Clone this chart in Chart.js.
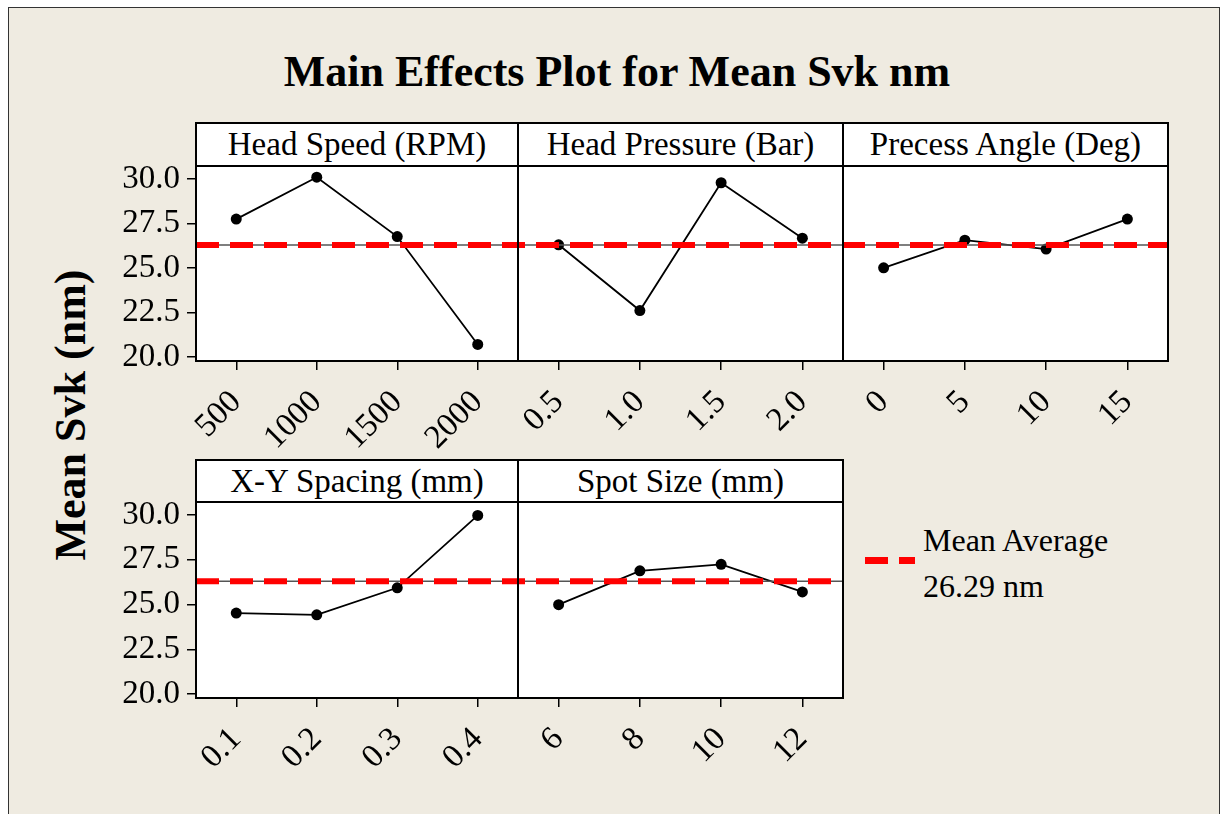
<!DOCTYPE html>
<html>
<head>
<meta charset="utf-8">
<title>Main Effects Plot for Mean Svk nm</title>
<script src="https://cdn.jsdelivr.net/npm/chart.js@4.4.1/dist/chart.umd.min.js"></script>
<style>
  body {
    margin: 0;
    width: 1224px;
    height: 814px;
    overflow: hidden;
    position: relative;
    background: #fff;
    font-family: 'Liberation Serif', 'Times New Roman', serif;
    color: #000;
  }
  #frame {
    position: absolute;
    left: 8px;
    top: 7px;
    width: 1210px;
    height: 830px;
    background: #efebe1;
    border: 1.5px solid #333;
  }
  .abs { position: absolute; }
  .header {
    position: absolute;
    box-sizing: border-box;
    background: #fff;
    border: 2px solid #000;
    text-align: center;
    font-size: 33px;
    line-height: 40px;
    white-space: nowrap;
  }
  #title {
    left: 0;
    width: 1234px;
    top: 47px;
    text-align: center;
    font-weight: bold;
    font-size: 44px;
    line-height: 50px;
  }
  #ytitle {
    left: -129px;
    top: 390px;
    width: 400px;
    height: 50px;
    text-align: center;
    font-weight: bold;
    font-size: 44px;
    line-height: 50px;
    transform: rotate(-90deg);
  }
  .legend-dash {
    position: absolute;
    height: 7px;
    background: #ff0000;
  }
  #legendText {
    left: 923px;
    top: 517px;
    font-size: 32px;
    line-height: 46px;
  }
</style>
</head>
<body>
<div id="frame"></div>
<div id="title" class="abs">Main Effects Plot for Mean Svk nm</div>
<div id="ytitle" class="abs">Mean Svk (nm)</div>

<script>
// overall mean of all runs, drawn as the dashed reference line
const meanValue = 26.29;

// shared y axis
const yTicks = [20.0, 22.5, 25.0, 27.5, 30.0];
const yMin = 19.78;
const yMax = 30.72;

// factor levels and mean Svk at each level
const headSpeedLevels = ['500', '1000', '1500', '2000'];
const headSpeedMeans = [27.74, 30.09, 26.76, 20.71];

const headPressureLevels = ['0.5', '1.0', '1.5', '2.0'];
const headPressureMeans = [26.30, 22.61, 29.78, 26.67];

const precessAngleLevels = ['0', '5', '10', '15'];
const precessAngleMeans = [25.01, 26.56, 26.06, 27.74];

const spacingLevels = ['0.1', '0.2', '0.3', '0.4'];
const spacingMeans = [24.52, 24.42, 25.93, 29.97];

const spotSizeLevels = ['6', '8', '10', '12'];
const spotSizeMeans = [24.99, 26.88, 27.24, 25.70];

const FONT = "'Liberation Serif', 'Times New Roman', serif";
const Y_AXIS_W = 110;
const X_AXIS_H = 100;
const PAD = 4;
const DASH_ORIGIN = 196; // keeps the dash pattern continuous across panels

// white plot area with a black frame
const panelFrame = {
    id: 'panelFrame',
    beforeDraw(chart) {
        const { ctx, chartArea: a } = chart;
        ctx.save();
        ctx.fillStyle = '#fff';
        ctx.fillRect(a.left, a.top, a.right - a.left, a.bottom - a.top);
        ctx.restore();
    },
    afterDraw(chart) {
        const { ctx, chartArea: a } = chart;
        ctx.save();
        ctx.strokeStyle = '#000';
        ctx.lineWidth = 2;
        ctx.strokeRect(a.left, a.top, a.right - a.left, a.bottom - a.top);
        ctx.restore();
    }
};

// horizontal reference line at the overall mean
const meanLine = {
    id: 'meanLine',
    afterDatasetsDraw(chart, args, opts) {
        const { ctx, chartArea: a, scales } = chart;
        const py = scales.y.getPixelForValue(opts.value);
        ctx.save();
        ctx.strokeStyle = '#555';
        ctx.lineWidth = 1.5;
        ctx.beginPath();
        ctx.moveTo(a.left, py);
        ctx.lineTo(a.right, py);
        ctx.stroke();

        ctx.strokeStyle = '#ff0000';
        ctx.lineWidth = 6;
        ctx.setLineDash([23, 11]);
        ctx.lineDashOffset = opts.offset;
        ctx.beginPath();
        ctx.moveTo(a.left, py);
        ctx.lineTo(a.right, py);
        ctx.stroke();
        ctx.restore();
    }
};

function addHeader(text, x, y, w, h) {
    const d = document.createElement('div');
    d.className = 'header';
    d.style.left = x + 'px';
    d.style.top = y + 'px';
    d.style.width = w + 'px';
    d.style.height = h + 'px';
    d.textContent = text;
    document.body.appendChild(d);
}

function makePanel(levels, means, box, showY) {
    const leftExtra = showY ? Y_AXIS_W : PAD;
    const canvas = document.createElement('canvas');
    canvas.width = box.w + leftExtra + PAD;
    canvas.height = box.h + PAD + X_AXIS_H;
    canvas.style.position = 'absolute';
    canvas.style.left = (box.x - leftExtra) + 'px';
    canvas.style.top = (box.y - PAD) + 'px';
    document.body.appendChild(canvas);

    return new Chart(canvas.getContext('2d'), {
        type: 'line',
        data: {
            labels: levels,
            datasets: [{
                data: means,
                borderColor: '#000',
                borderWidth: 1.8,
                pointRadius: 5.5,
                pointBackgroundColor: '#000',
                pointBorderWidth: 0,
                tension: 0
            }]
        },
        options: {
            responsive: false,
            animation: false,
            devicePixelRatio: 1,
            layout: {
                autoPadding: false, // plot areas must sit exactly on the panel grid
                padding: { left: showY ? 0 : PAD, top: PAD, right: PAD, bottom: 0 }
            },
            plugins: {
                legend: { display: false },
                tooltip: { enabled: false },
                meanLine: { value: meanValue, offset: box.x - DASH_ORIGIN }
            },
            scales: {
                x: {
                    type: 'category',
                    offset: true,
                    grid: {
                        display: true,
                        drawOnChartArea: false,
                        drawTicks: true,
                        tickLength: 9,
                        color: '#000',
                        lineWidth: 1.5
                    },
                    border: { display: false },
                    ticks: {
                        autoSkip: false,
                        minRotation: 45,
                        maxRotation: 45,
                        padding: 13,
                        color: '#000',
                        font: { family: FONT, size: 33 }
                    },
                    afterFit(scale) {
                        scale.height = X_AXIS_H;
                        scale.paddingLeft = 0;
                        scale.paddingRight = 0;
                    }
                },
                y: {
                    display: showY,
                    min: yMin,
                    max: yMax,
                    grid: {
                        display: true,
                        drawOnChartArea: false,
                        drawTicks: true,
                        tickLength: 9,
                        color: '#000',
                        lineWidth: 1.5
                    },
                    border: { display: false },
                    ticks: {
                        padding: 7,
                        color: '#000',
                        font: { family: FONT, size: 33 },
                        callback: v => Number(v).toFixed(1)
                    },
                    afterBuildTicks(scale) {
                        scale.ticks = yTicks.map(v => ({ value: v }));
                    },
                    afterFit(scale) {
                        if (showY) scale.width = Y_AXIS_W;
                        scale.paddingTop = 0;
                        scale.paddingBottom = 0;
                    }
                }
            }
        },
        plugins: [panelFrame, meanLine]
    });
}

// top row
addHeader('Head Speed (RPM)', 195, 122, 324, 45);
addHeader('Head Pressure (Bar)', 517, 122, 327, 45);
addHeader('Precess Angle (Deg)', 842, 122, 327, 45);
makePanel(headSpeedLevels, headSpeedMeans, { x: 196, y: 166, w: 322, h: 195 }, true);
makePanel(headPressureLevels, headPressureMeans, { x: 518, y: 166, w: 325, h: 195 }, false);
makePanel(precessAngleLevels, precessAngleMeans, { x: 843, y: 166, w: 325, h: 195 }, false);

// bottom row
addHeader('X-Y Spacing (mm)', 195, 459, 324, 45);
addHeader('Spot Size (mm)', 517, 459, 327, 45);
makePanel(spacingLevels, spacingMeans, { x: 196, y: 502, w: 322, h: 196 }, true);
makePanel(spotSizeLevels, spotSizeMeans, { x: 518, y: 502, w: 325, h: 196 }, false);

// legend for the reference line
const dashA = document.createElement('div');
dashA.className = 'legend-dash';
dashA.style.left = '865px'; dashA.style.top = '557px'; dashA.style.width = '23px';
document.body.appendChild(dashA);
const dashB = document.createElement('div');
dashB.className = 'legend-dash';
dashB.style.left = '899px'; dashB.style.top = '557px'; dashB.style.width = '16px';
document.body.appendChild(dashB);

const legendText = document.createElement('div');
legendText.id = 'legendText';
legendText.className = 'abs';
legendText.innerHTML = 'Mean Average<br>' + meanValue.toFixed(2) + ' nm';
document.body.appendChild(legendText);
</script>
</body>
</html>
